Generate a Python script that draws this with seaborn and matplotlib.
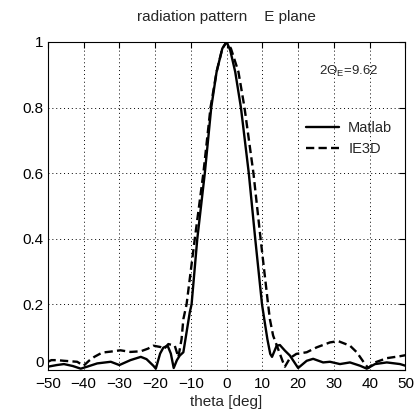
import pandas as pd
import matplotlib
matplotlib.use("Agg")
import matplotlib.pyplot as plt
import seaborn as sns

# values
matlab_theta = [-50, -47.5, -45.5, -43, -40.8, -39, -36.2, -32.4, -30, -26.9, -24, -22.4, -20.5, -19.8,
                -18.6, -17.7, -16.5, -15.6, -14.8, -13.9, -13.1, -12.1, -11.2, -10.3, -9.8, -8.2, -6.1,
                -4.3, -2.8, -1.2, 0, 1.0, 2.4, 4.0, 6.2, 8.0, 9.9, 10.6, 11.4, 12.2, 12.7, 14.0, 14.9,
                16.3, 17.7, 20.0, 22.4, 24.2, 27, 28.9, 31.7, 34.5, 37.3, 39.2, 41.5, 44.8, 48.5, 50]
matlab_vals = [0.01, 0.015, 0.018, 0.012, 0.004, 0.01, 0.02, 0.025, 0.015, 0.03, 0.04, 0.033, 0.013, 0.004,
               0.05, 0.068, 0.074, 0.05, 0.006, 0.03, 0.044, 0.054, 0.115, 0.176, 0.2, 0.4, 0.6,
               0.8, 0.909, 0.98, 1.0, 0.975, 0.909, 0.8, 0.6, 0.4, 0.2, 0.15, 0.094, 0.049, 0.04, 0.074, 0.076,
               0.059, 0.044, 0.006, 0.028, 0.034, 0.023, 0.025, 0.018, 0.023, 0.013, 0.004, 0.018, 0.023, 0.018, 0.013]

ie3d_theta = [-50, -49, -47.4, -45.5, -41.8, -40, -38.5, -37, -34.8, -32.4, -29.7, -26.9, -24, -22, -20.5,
              -18.5, -17.5, -16.3, -14.5, -13.5, -12.6, -12.1, -11.2, -8.9, -6.5, -4.5, -2.8, -1.2, 0,
              1.2, 3.3, 5.0, 7.5, 9.5, 11.6, 12.1, 13.0, 14.4, 15.8, 16.3, 17.7, 19.5, 22.4, 25.2, 28.9,
              31.2, 34.5, 36.4, 38.7, 39.6, 41.5, 44.8, 48.5, 50]
ie3d_vals = [0.025, 0.03, 0.03, 0.028, 0.025, 0.013, 0.028, 0.04, 0.053, 0.056, 0.06, 0.055, 0.057, 0.065, 0.074,
             0.07, 0.064, 0.079, 0.074, 0.039, 0.094, 0.155, 0.2, 0.4, 0.6, 0.8, 0.909, 0.98, 1.0,
             0.98, 0.909, 0.8, 0.6, 0.4, 0.2, 0.155, 0.105, 0.064, 0.023, 0.01, 0.036, 0.049, 0.054, 0.069, 0.084,
             0.088, 0.074, 0.054, 0.018, 0.006, 0.023, 0.036, 0.042, 0.045]

x_ticks = [-50, -40, -30, -20, -10, 0, 10, 20, 30, 40, 50]
y_ticks = [0, 0.2, 0.4, 0.6, 0.8, 1]
y_tick_labels = ["0", "0.2", "0.4", "0.6", "0.8", "1"]

df = pd.concat([
    pd.DataFrame({"theta": matlab_theta, "pattern": matlab_vals, "source": "Matlab"}),
    pd.DataFrame({"theta": ie3d_theta, "pattern": ie3d_vals, "source": "IE3D"}),
])

sns.set_style("white")
plt.rcParams["font.family"] = ["Liberation Sans", "DejaVu Sans"]
plt.rcParams["mathtext.fontset"] = "custom"
plt.rcParams["mathtext.rm"] = "Liberation Sans"
plt.rcParams["mathtext.it"] = "Liberation Sans"

fig = plt.figure(figsize=(4.16, 4.19), dpi=100)
ax = fig.add_axes([0.115, 0.117, 0.8595, 0.783])

sns.lineplot(data=df, x="theta", y="pattern", hue="source", style="source",
             palette={"Matlab": "black", "IE3D": "black"},
             dashes={"Matlab": "", "IE3D": (3.5, 1.8)},
             linewidth=1.7, sort=False, ax=ax)

ax.set_xlim(-50, 50)
ax.set_ylim(0, 1)
ax.set_xticks(x_ticks)
ax.set_yticks(y_ticks)
ax.set_yticklabels(y_tick_labels)
ax.tick_params(direction="in", length=4, width=0.8, labelsize=11, top=True, right=True,
               colors="black")
ax.tick_params(axis="x", pad=5)
ax.tick_params(axis="y", pad=3)
# like Matlab, the "0" sits just above the bottom axis line
ax.get_yticklabels()[0].set_va("bottom")
ax.grid(True, color="black", linestyle=(0, (1, 3)), linewidth=0.7)
for sp in ax.spines.values():
    sp.set_color("black")
    sp.set_linewidth(0.8)

ax.set_title("radiation pattern    E plane", fontsize=11, pad=15)
ax.set_xlabel("theta [deg]", fontsize=11, labelpad=3)
ax.set_ylabel("")

ax.text(34, 0.91, r"2Θ$_{\mathrm{E}}$=9.62", fontsize=9.5, ha="center", va="center")

leg = ax.legend(loc="upper right", bbox_to_anchor=(1.0, 0.80), frameon=False, fontsize=10.5,
                handlelength=2.3, handletextpad=0.6, labelspacing=0.5)

fig.savefig("out.png", dpi=100, facecolor="white")
